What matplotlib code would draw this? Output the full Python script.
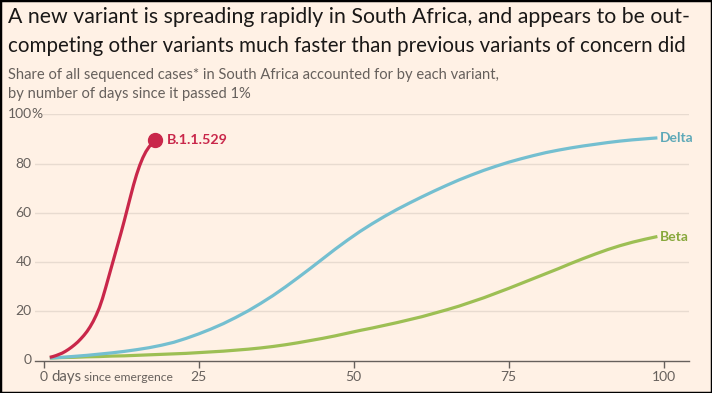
import matplotlib
matplotlib.use("Agg")
import matplotlib.pyplot as plt
from matplotlib.patches import Rectangle

# ---- data ----
omicron_days = [1, 1.5, 2, 2.5, 3, 3.5, 4, 4.5, 5, 5.5, 6, 6.5, 7, 7.5, 8, 8.5,
                9, 9.5, 10, 10.5, 11, 11.5, 12, 12.5, 13, 13.5, 14, 14.5, 15,
                15.5, 16, 16.5, 17, 17.5, 18]
omicron_share = [1.3, 1.6, 2.0, 2.5, 3.0, 3.7, 4.5, 5.4, 6.4, 7.5, 8.8, 10.2,
                 11.8, 13.7, 15.9, 18.5, 21.5, 25.2, 29.5, 34.0, 38.5, 43.0,
                 47.5, 52.0, 56.7, 61.6, 66.5, 71.3, 75.6, 79.3, 82.4, 84.9,
                 86.8, 88.3, 89.5]

curve_days = [1, 3, 5, 7, 9, 11, 13, 15, 17, 19, 21, 23, 25, 27, 29, 31, 33,
              35, 37, 39, 41, 43, 45, 47, 49, 51, 53, 55, 57, 59, 61, 63, 65,
              67, 69, 71, 73, 75, 77, 79, 81, 83, 85, 87, 89, 91, 93, 95, 97, 99]
delta_share = [1.0, 1.3, 1.7, 2.1, 2.6, 3.1, 3.7, 4.4, 5.2, 6.2, 7.4, 9.0, 10.8,
               12.8, 15.0, 17.5, 20.2, 23.2, 26.4, 29.9, 33.6, 37.4, 41.3, 45.2,
               48.9, 52.4, 55.6, 58.6, 61.4, 64.0, 66.5, 68.9, 71.2, 73.4, 75.4,
               77.3, 79.0, 80.6, 82.0, 83.3, 84.5, 85.5, 86.4, 87.2, 87.9, 88.6,
               89.2, 89.7, 90.1, 90.5]
beta_share = [1.0, 1.2, 1.3, 1.5, 1.6, 1.8, 1.9, 2.1, 2.3, 2.5, 2.7, 2.9, 3.2,
              3.5, 3.8, 4.2, 4.6, 5.1, 5.7, 6.4, 7.2, 8.1, 9.0, 10.0, 11.1, 12.2,
              13.2, 14.3, 15.4, 16.6, 17.8, 19.2, 20.6, 22.1, 23.8, 25.5, 27.4,
              29.3, 31.3, 33.3, 35.3, 37.3, 39.4, 41.4, 43.3, 45.1, 46.7, 48.1,
              49.3, 50.4]

x_ticks = [0, 25, 50, 75, 100]
y_ticks = [0, 20, 40, 60, 80, 100]

title_lines = ["A new variant is spreading rapidly in South Africa, and appears to be out-",
               "competing other variants much faster than previous variants of concern did"]
subtitle_lines = ["Share of all sequenced cases* in South Africa accounted for by each variant,",
                  "by number of days since it passed 1%"]

BG = "#fff1e5"
RED = "#c9274a"
BLUE = "#74bfd0"
BLUE_T = "#5ea9b8"
GREEN = "#9dbf54"
GREEN_T = "#88a83c"
GREY = "#66605c"
GRID = "#e8dbd0"
FONT = "Lato"

W, H = 712, 393
fig = plt.figure(figsize=(W / 100, H / 100), dpi=100, facecolor=BG)


def fx(px):
    return px / W


def fy(py):
    return 1 - py / H


# axes geometry in pixels
x0_px, x100_px = 43.6, 663.6
ppd = (x100_px - x0_px) / 100
ax_left_px, ax_right_px = 35, 689
y0_px, y100_px = 360.5, 114.5
ax_h_px = y0_px - y100_px

ax = fig.add_axes([fx(ax_left_px), fy(y0_px), (ax_right_px - ax_left_px) / W,
                   ax_h_px / H])
ax.set_facecolor(BG)
ax.set_xlim((ax_left_px - x0_px) / ppd, (ax_right_px - x0_px) / ppd)
ax.set_ylim(0, 100)
ax.patch.set_alpha(0)

for s in ["top", "right", "left"]:
    ax.spines[s].set_visible(False)
ax.spines["bottom"].set_color(GREY)
ax.spines["bottom"].set_linewidth(1.0)

ax_w_px = ax_right_px - ax_left_px
for yv in y_ticks[1:]:
    start = 0.0 if yv != 100 else (43 - ax_left_px) / ax_w_px
    ax.axhline(yv, color=GRID, lw=1.0, zorder=0, xmin=start, xmax=1.0)

ax.set_yticks([])
ax.set_xticks(x_ticks)
ax.tick_params(axis="x", length=5, width=1, color=GREY, labelbottom=False)

# y labels (right edge at ~31 px)
lab_x = (31.5 - x0_px) / ppd
for yv in y_ticks:
    ax.text(lab_x, yv, str(yv), ha="right", va="center", fontsize=10,
            color=GREY, family=FONT, clip_on=False)
ax.text(lab_x, 100, "%", ha="left", va="center", fontsize=10,
        color=GREY, family=FONT, clip_on=False)

# x labels
xt = ax.get_xaxis_transform()
base_y = -20.5 / ax_h_px
for xv in x_ticks:
    ax.text(xv, base_y, str(xv), transform=xt, ha="center", va="baseline",
            fontsize=10, color=GREY, family=FONT)
ax.text((51 - x0_px) / ppd, base_y, "days", transform=xt, ha="left",
        va="baseline", fontsize=10.8, color=GREY, family=FONT)
ax.text((84 - x0_px) / ppd, base_y, "since emergence", transform=xt, ha="left",
        va="baseline", fontsize=8.7, color=GREY, family=FONT)

# lines
ax.plot(curve_days, beta_share, color=GREEN, lw=2.3, solid_capstyle="butt",
        solid_joinstyle="round", clip_on=False, zorder=3)
ax.plot(curve_days, delta_share, color=BLUE, lw=2.3, solid_capstyle="butt",
        solid_joinstyle="round", clip_on=False, zorder=3)
ax.plot(omicron_days, omicron_share, color=RED, lw=2.3, solid_capstyle="butt",
        solid_joinstyle="round", clip_on=False, zorder=4)
ax.plot(omicron_days[-1], omicron_share[-1], "o", color=RED, ms=10,
        clip_on=False, zorder=5)

ax.text(omicron_days[-1] + 1.9, omicron_share[-1], "B.1.1.529", color=RED,
        fontsize=10.3, fontweight="bold", family=FONT, va="center", ha="left")
ax.text(curve_days[-1] + 0.4, delta_share[-1], "Delta", color=BLUE_T,
        fontsize=10, fontweight="bold", family=FONT, va="center", ha="left")
ax.text(curve_days[-1] + 0.4, beta_share[-1], "Beta", color=GREEN_T,
        fontsize=10, fontweight="bold", family=FONT, va="center", ha="left")

# titles
fig.text(fx(8), fy(17), title_lines[0], ha="left", va="center",
         fontsize=15.3, color="#1a1817", family=FONT)
fig.text(fx(8), fy(46), title_lines[1], ha="left", va="center",
         fontsize=14.8, color="#1a1817", family=FONT)
fig.text(fx(8), fy(75), subtitle_lines[0], ha="left", va="center",
         fontsize=10.6, color=GREY, family=FONT)
fig.text(fx(8), fy(94), subtitle_lines[1], ha="left", va="center",
         fontsize=10.6, color=GREY, family=FONT)

# border
fig.patches.append(Rectangle((0, 0), 1, 1, transform=fig.transFigure,
                             fill=False, edgecolor="black", lw=2.5))

fig.savefig("out.png", dpi=100, facecolor=BG)
